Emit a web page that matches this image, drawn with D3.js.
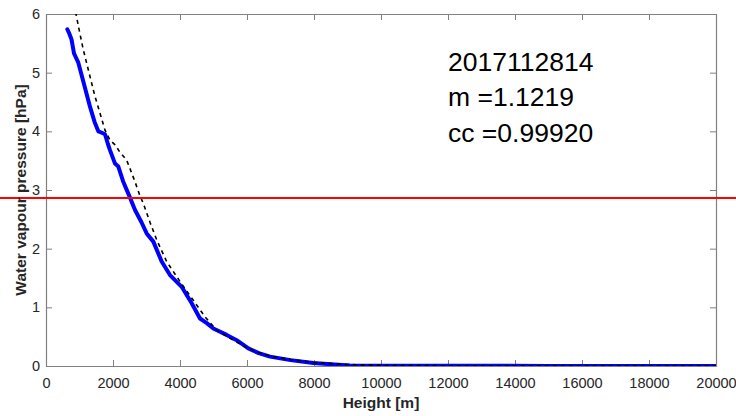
<!DOCTYPE html>
<html>
<head>
<meta charset="utf-8">
<script src="https://cdn.jsdelivr.net/npm/d3@7"></script>
<style>
  html, body { margin: 0; padding: 0; background: #fff; }
  svg { display: block; }
</style>
</head>
<body>
<svg id="chart" width="736" height="416"></svg>
<script>
// ---- data ----
const measHeight = [636, 700, 760, 836, 900, 965, 1100, 1313, 1450, 1562, 1650, 1761, 1850, 1910, 2060, 2159, 2300, 2507, 2657, 2850, 3005, 3204, 3453, 3701, 4050, 4349, 4597, 4800, 4995, 5393, 5692, 6040, 6350, 6687, 7300, 7980, 8500, 9075, 10000, 12000, 15000, 20000];
const measValue  = [5.74, 5.66, 5.57, 5.33, 5.25, 5.17, 4.88, 4.42, 4.16, 4.00, 3.98, 3.95, 3.78, 3.68, 3.45, 3.40, 3.15, 2.87, 2.66, 2.45, 2.26, 2.12, 1.78, 1.55, 1.35, 1.07, 0.81, 0.73, 0.64, 0.53, 0.44, 0.30, 0.22, 0.16, 0.10, 0.05, 0.03, 0.01, 0.005, 0.003, 0.002, 0.001];
const refHeight  = [780, 896, 1000, 1114, 1263, 1450, 1612, 1761, 1910, 2060, 2200, 2408, 2550, 2657, 2806, 2905, 3104, 3304, 3603, 4000, 4397, 4746, 5095, 5590, 5940, 6300, 6700, 7200, 8000, 9000, 10000, 12000, 20000];
const refValue   = [6.30, 6.00, 5.70, 5.39, 5.05, 4.62, 4.31, 4.02, 3.85, 3.77, 3.65, 3.51, 3.30, 3.14, 2.90, 2.77, 2.45, 2.15, 1.78, 1.44, 1.12, 0.84, 0.61, 0.44, 0.33, 0.24, 0.17, 0.12, 0.06, 0.025, 0.01, 0.005, 0.002];
const thresholdValue = 2.864;
const xTicks = [0, 2000, 4000, 6000, 8000, 10000, 12000, 14000, 16000, 18000, 20000];
const yTicks = [0, 1, 2, 3, 4, 5, 6];
const annotation = ["2017112814", "m =1.1219", "cc =0.99920"];
const xLabel = "Height [m]";
const yLabel = "Water vapour pressure [hPa]";

// ---- layout ----
const W = 736, H = 416;
const mLeft = 46, mRight = 716, mTop = 14, mBottom = 366;
const svg = d3.select("#chart");
const font = "'Liberation Sans', Arial, Helvetica, sans-serif";
const axisCol = "#808080", textCol = "#262626";

const x = d3.scaleLinear().domain([0, 20000]).range([mLeft, mRight]);
const y = d3.scaleLinear().domain([0, 6]).range([mBottom, mTop]);

svg.append("defs").append("clipPath").attr("id", "plotclip")
  .append("rect").attr("x", mLeft).attr("y", mTop).attr("width", mRight - mLeft).attr("height", mBottom - mTop);

// axes
const tickLen = 6;
const gx = svg.append("g").attr("transform", `translate(0,${mBottom})`)
  .call(d3.axisBottom(x).tickValues(xTicks).tickSizeInner(-tickLen).tickSizeOuter(0).tickPadding(12).tickFormat(d3.format("d")));
const gxTop = svg.append("g").attr("transform", `translate(0,${mTop})`)
  .call(d3.axisTop(x).tickValues(xTicks).tickSizeInner(-tickLen).tickSizeOuter(0).tickFormat(""));
const gy = svg.append("g").attr("transform", `translate(${mLeft},0)`)
  .call(d3.axisLeft(y).tickValues(yTicks).tickSizeInner(-tickLen).tickSizeOuter(0).tickPadding(6).tickFormat(d3.format("d")));
const gyR = svg.append("g").attr("transform", `translate(${mRight},0)`)
  .call(d3.axisRight(y).tickValues(yTicks).tickSizeInner(-tickLen).tickSizeOuter(0).tickFormat(""));

[gx, gxTop, gy, gyR].forEach(g => {
  g.selectAll(".domain").attr("stroke", axisCol).attr("stroke-width", 1.2);
  g.selectAll(".tick line").attr("stroke", axisCol).attr("stroke-width", 1);
  g.selectAll(".tick text").attr("fill", textCol).attr("font-family", font).attr("font-size", 14.5);
});

// lines
const plot = svg.append("g").attr("clip-path", "url(#plotclip)");
const lineGen = d3.line().x(d => x(d[0])).y(d => y(d[1]));

const measData = measHeight.map((h, i) => [h, measValue[i]]);
const refData = refHeight.map((h, i) => [h, refValue[i]]);

plot.append("path").datum(measData).attr("d", lineGen)
  .attr("fill", "none").attr("stroke", "#0000ff").attr("stroke-width", 4)
  .attr("stroke-linejoin", "round").attr("stroke-linecap", "round");

plot.append("path").datum(refData).attr("d", lineGen)
  .attr("fill", "none").attr("stroke", "#000").attr("stroke-width", 1.6)
  .attr("stroke-dasharray", "4,4");

// red threshold line across the full figure width
svg.append("line")
  .attr("x1", 0).attr("x2", W)
  .attr("y1", y(thresholdValue)).attr("y2", y(thresholdValue))
  .attr("stroke", "#ff0000").attr("stroke-width", 2);

// annotation
const ann = svg.append("g").attr("font-family", font).attr("font-size", 26.5).attr("fill", "#000");
annotation.forEach((t, i) => {
  ann.append("text").attr("x", 448).attr("y", 71 + i * 35.3).text(t);
});

// axis labels
svg.append("text").attr("x", (mLeft + mRight) / 2).attr("y", 408)
  .attr("text-anchor", "middle").attr("font-family", font).attr("font-size", 15.5)
  .attr("font-weight", "bold").attr("fill", textCol).text(xLabel);

svg.append("text").attr("transform", `translate(26,${(mTop + mBottom) / 2}) rotate(-90)`)
  .attr("text-anchor", "middle").attr("font-family", font).attr("font-size", 15.5)
  .attr("font-weight", "bold").attr("fill", textCol).text(yLabel);
</script>
</body>
</html>
